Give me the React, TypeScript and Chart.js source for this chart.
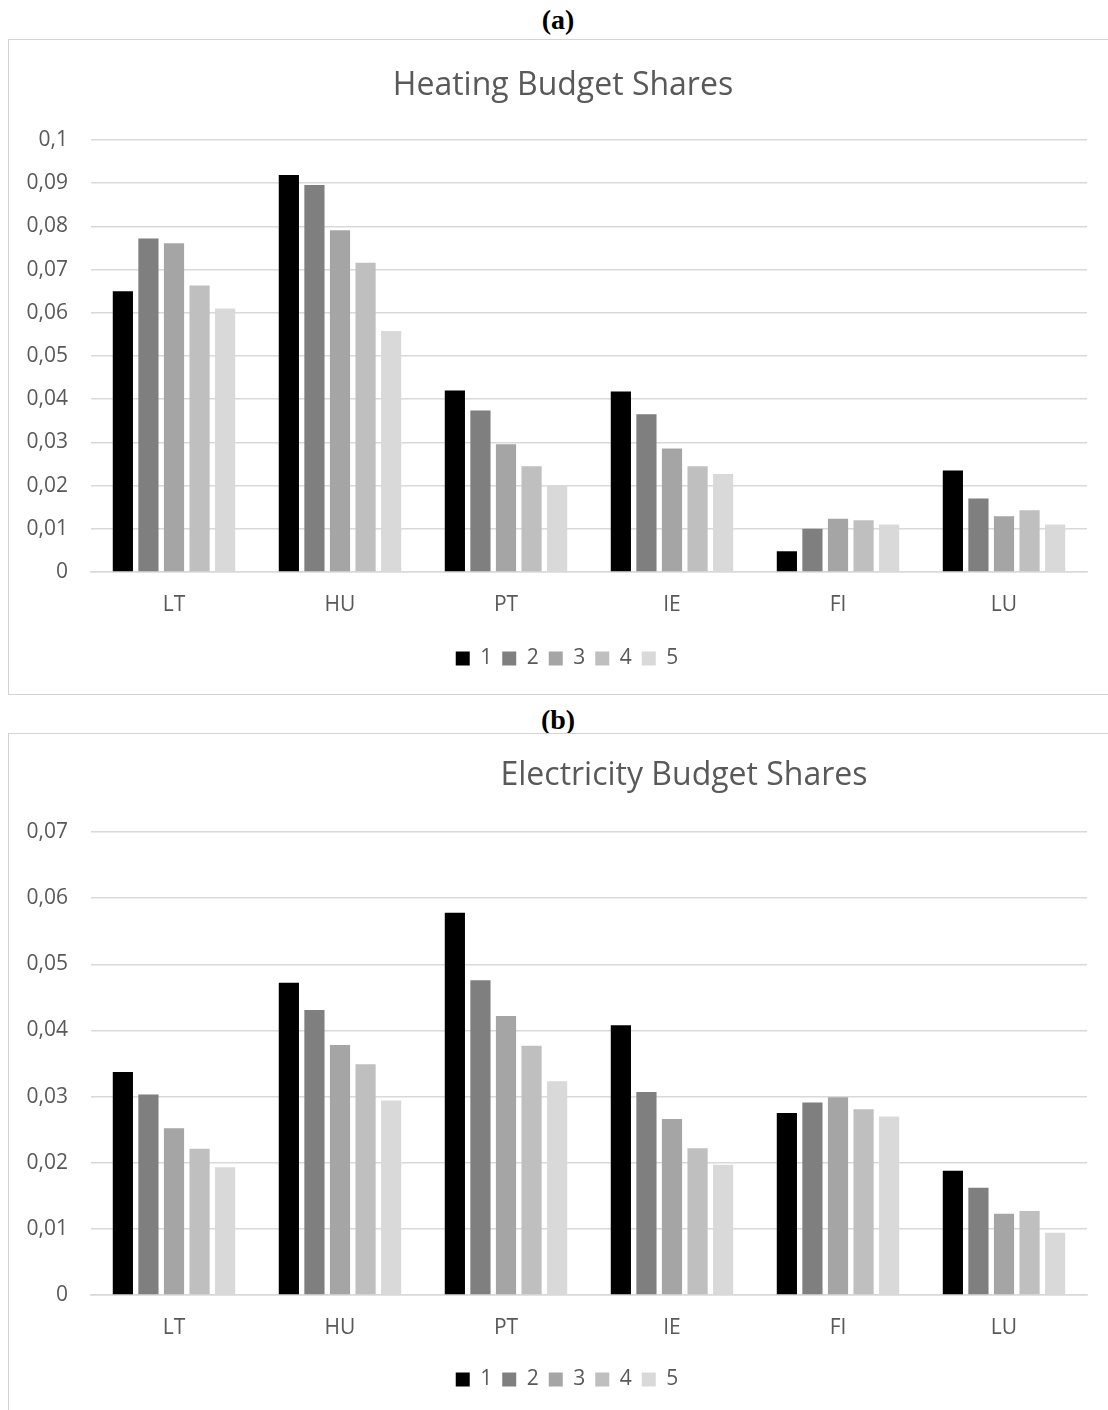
import React, { useEffect, useRef } from "react";
import { Chart, registerables } from "chart.js";

Chart.register(...registerables);

const CATEGORIES = ["LT", "HU", "PT", "IE", "FI", "LU"];
const SERIES_NAMES = ["1", "2", "3", "4", "5"];
const SERIES_COLORS = ["#000000", "#7f7f7f", "#a5a5a5", "#bfbfbf", "#d9d9d9"];

const HEATING_Q1 = [0.065, 0.0919, 0.042, 0.0418, 0.0048, 0.0235];
const HEATING_Q2 = [0.0772, 0.0896, 0.0374, 0.0365, 0.01, 0.017];
const HEATING_Q3 = [0.0761, 0.0791, 0.0296, 0.0286, 0.0123, 0.0129];
const HEATING_Q4 = [0.0663, 0.0716, 0.0245, 0.0245, 0.012, 0.0143];
const HEATING_Q5 = [0.061, 0.0558, 0.0201, 0.0227, 0.011, 0.011];

const ELEC_Q1 = [0.0337, 0.0472, 0.0578, 0.0408, 0.0275, 0.0188];
const ELEC_Q2 = [0.0303, 0.0431, 0.0476, 0.0307, 0.0291, 0.0162];
const ELEC_Q3 = [0.0252, 0.0378, 0.0422, 0.0266, 0.0299, 0.0123];
const ELEC_Q4 = [0.0221, 0.0349, 0.0377, 0.0222, 0.0281, 0.0127];
const ELEC_Q5 = [0.0193, 0.0294, 0.0323, 0.0197, 0.027, 0.0094];

const HEATING_TICKS = ["0", "0,01", "0,02", "0,03", "0,04", "0,05", "0,06", "0,07", "0,08", "0,09", "0,1"];
const ELEC_TICKS = ["0", "0,01", "0,02", "0,03", "0,04", "0,05", "0,06", "0,07"];

const HEATING_TITLE = "Heating Budget Shares";
const ELEC_TITLE = "Electricity Budget Shares";

const FONT = "'Open Sans', 'Noto Sans', sans-serif";
const TEXT_COLOR = "#595959";
const GRID_COLOR = "#d9d9d9";

type Cfg = {
  series: number[][];
  ticks: string[];
  max: number;
  title: string;
  titleX: number;
  titleY: number;
  width: number;
  height: number;
  padTop: number;
  padBottom: number;
  xHeight: number;
  legendShift: number;
};

const titlePlugin = {
  id: "offsetTitle",
  afterLayout(chart: any, _args: any, opts: any) {
    const lg = chart.legend;
    if (lg && opts.legendShift) {
      lg.left += opts.legendShift;
      lg.right += opts.legendShift;
    }
  },
  afterDraw(chart: any, _args: any, opts: any) {
    const ctx = chart.ctx;
    ctx.save();
    ctx.font = `32px ${FONT}`;
    ctx.fillStyle = TEXT_COLOR;
    ctx.textAlign = "center";
    ctx.textBaseline = "middle";
    ctx.fillText(opts.text, opts.x, opts.y);
    ctx.restore();
  },
};

function BarChart({ cfg }: { cfg: Cfg }) {
  const ref = useRef<HTMLCanvasElement | null>(null);
  useEffect(() => {
    if (!ref.current) return;
    const chart = new Chart(ref.current, {
      type: "bar",
      data: {
        labels: CATEGORIES,
        datasets: cfg.series.map((vals, i) => ({
          label: SERIES_NAMES[i],
          data: vals,
          backgroundColor: SERIES_COLORS[i],
          borderWidth: 0,
          categoryPercentage: 0.77,
          barPercentage: 0.79,
        })),
      },
      options: {
        responsive: false,
        animation: false,
        devicePixelRatio: 1,
        layout: { padding: { top: cfg.padTop, right: 30, bottom: cfg.padBottom, left: 0 } },
        plugins: {
          title: { display: false },
          tooltip: { enabled: false },
          legend: {
            display: true,
            position: "bottom",
            labels: {
              boxWidth: 14,
              boxHeight: 14,
              padding: 10,
              color: TEXT_COLOR,
              font: { family: FONT, size: 21 },
            },
          },
          offsetTitle: { text: cfg.title, x: cfg.titleX, y: cfg.titleY, legendShift: cfg.legendShift },
        } as any,
        scales: {
          x: {
            grid: { display: false, drawTicks: false },
            border: { display: true, color: GRID_COLOR, width: 1.5 },
            ticks: { color: TEXT_COLOR, font: { family: FONT, size: 21 }, padding: 20 },
            afterFit: (s: any) => {
              s.height = cfg.xHeight;
            },
          },
          y: {
            min: 0,
            max: cfg.max,
            grid: { color: GRID_COLOR, lineWidth: 1.5, drawTicks: false },
            border: { display: false },
            ticks: {
              stepSize: 0.01,
              autoSkip: false,
              padding: 23,
              color: TEXT_COLOR,
              font: { family: FONT, size: 21 },
              callback: (_v: any, i: number) => cfg.ticks[i],
            },
            afterFit: (s: any) => {
              s.width = 82;
            },
          },
        },
      },
      plugins: [titlePlugin],
    });
    return () => chart.destroy();
  }, [cfg]);
  return (
    <canvas
      ref={ref}
      width={cfg.width}
      height={cfg.height}
      style={{ display: "block", width: cfg.width, height: cfg.height }}
    />
  );
}

const heatingCfg: Cfg = {
  series: [HEATING_Q1, HEATING_Q2, HEATING_Q3, HEATING_Q4, HEATING_Q5],
  ticks: HEATING_TICKS,
  max: 0.1,
  title: HEATING_TITLE,
  titleX: 554,
  titleY: 46,
  width: 1108,
  height: 654,
  padTop: 100,
  padBottom: 15,
  xHeight: 66,
  legendShift: 19,
};

const elecCfg: Cfg = {
  series: [ELEC_Q1, ELEC_Q2, ELEC_Q3, ELEC_Q4, ELEC_Q5],
  ticks: ELEC_TICKS,
  max: 0.07,
  title: ELEC_TITLE,
  titleX: 675,
  titleY: 42,
  width: 1108,
  height: 698,
  padTop: 98,
  padBottom: 32,
  xHeight: 64,
  legendShift: 19,
};

const labelStyle: React.CSSProperties = {
  position: "absolute",
  left: 0,
  width: 1116,
  textAlign: "center",
  fontFamily: "'Liberation Serif', 'Times New Roman', serif",
  fontWeight: "bold",
  fontSize: 28,
  lineHeight: "28px",
  color: "#000",
};

const boxStyle: React.CSSProperties = {
  position: "absolute",
  left: 8,
  width: 1110,
  border: "1px solid #d4d4d4",
  boxSizing: "border-box",
  background: "#fff",
};

export default function App() {
  return (
    <div
      style={{
        position: "absolute",
        left: 0,
        top: 0,
        width: 1108,
        height: 1410,
        overflow: "hidden",
        background: "#fff",
      }}
    >
      <div style={{ ...labelStyle, top: 6 }}>(a)</div>
      <div style={{ ...boxStyle, top: 39, height: 656 }}>
        <BarChart cfg={heatingCfg} />
      </div>
      <div style={{ ...labelStyle, top: 706 }}>(b)</div>
      <div style={{ ...boxStyle, top: 733, height: 700 }}>
        <BarChart cfg={elecCfg} />
      </div>
    </div>
  );
}
